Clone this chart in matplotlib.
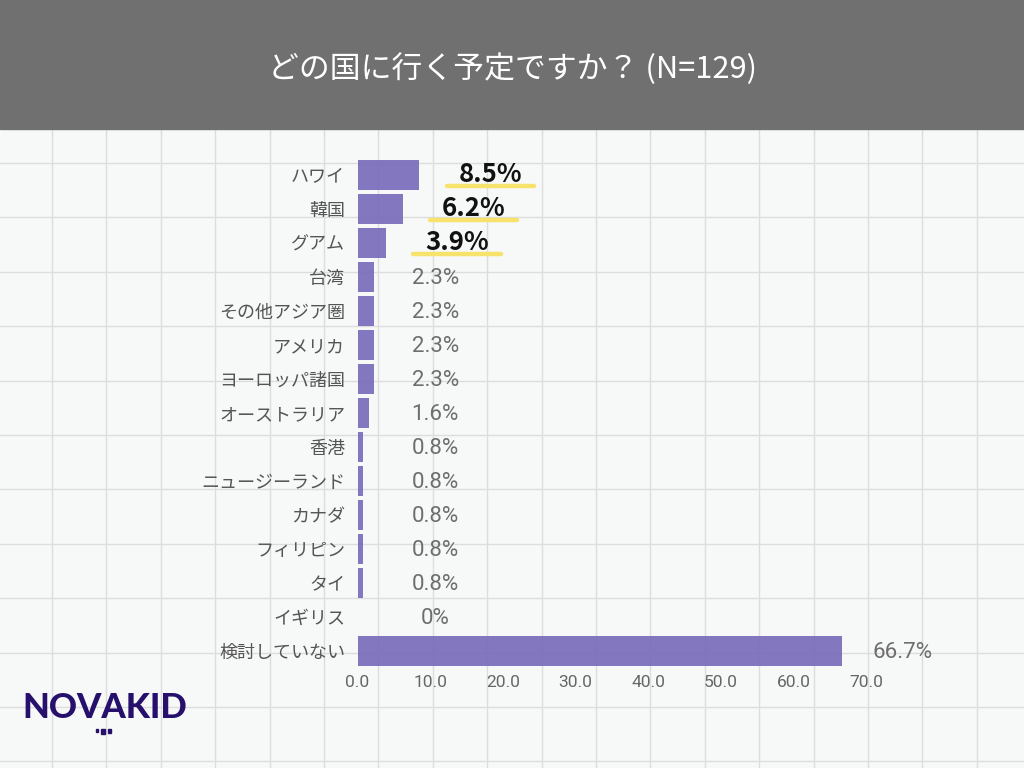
import matplotlib
matplotlib.use("Agg")
import matplotlib.pyplot as plt

plt.rcParams['font.family'] = ['Noto Sans CJK JP', 'DejaVu Sans']

# ---- data ----
categories = ["ハワイ", "韓国", "グアム", "台湾", "その他アジア圏", "アメリカ",
              "ヨーロッパ諸国", "オーストラリア", "香港", "ニュージーランド",
              "カナダ", "フィリピン", "タイ", "イギリス", "検討していない"]
values = [8.5, 6.2, 3.9, 2.3, 2.3, 2.3, 2.3, 1.6, 0.8, 0.8, 0.8, 0.8, 0.8, 0.0, 66.7]
value_labels = ["8.5%", "6.2%", "3.9%", "2.3%", "2.3%", "2.3%", "2.3%", "1.6%",
                "0.8%", "0.8%", "0.8%", "0.8%", "0.8%", "0%", "66.7%"]
highlight = [True, True, True] + [False] * 12
x_ticks = [0, 10, 20, 30, 40, 50, 60, 70]
x_tick_labels = ["0.0", "10.0", "20.0", "30.0", "40.0", "50.0", "60.0", "70.0"]
title = "どの国に行く予定ですか？ (N=129)"

W, H = 1024, 768
fig = plt.figure(figsize=(W / 100, H / 100), dpi=100)
fig.patch.set_facecolor("#f7f8f8")

num_font = ["Roboto", "Noto Sans CJK JP", "DejaVu Sans"]

# ---- decorative background grid + header ----
bg = fig.add_axes([0, 0, 1, 1])
bg.set_xlim(0, W)
bg.set_ylim(H, 0)
bg.axis("off")
gx = 52.0
while gx < W:
    bg.plot([gx, gx], [0, H], color="#dddddd", lw=1.0, zorder=0)
    gx += 54.4
gy = 163.0
while gy < H:
    bg.plot([0, W], [gy, gy], color="#dddddd", lw=1.0, zorder=0)
    gy += 54.4
bg.add_patch(plt.Rectangle((0, 0), W, 129, color="#707070", zorder=2))
bg.text(W / 2, 69, title, color="white", fontsize=22.2, ha="center", va="center", zorder=3)

# logo
bg.text(22, 708, "NOVAKID", color="#26106b", fontsize=25, fontweight="black",
        family=["Lato", "DejaVu Sans"], ha="left", va="center")
for dx, dy, s in [(-6, 0, 2.5), (0, 1, 3.5), (6, 0, 3)]:
    bg.add_patch(plt.Rectangle((103 + dx - s / 2, 730 + dy - s / 2), s, s * 1.4,
                               color="#26106b"))

# ---- main chart ----
left_px, right_px = 357.5, 866.0
top_px, bottom_px = 158.0, 668.0
ax = fig.add_axes([left_px / W, 1 - bottom_px / H, (right_px - left_px) / W,
                   (bottom_px - top_px) / H])
ax.patch.set_alpha(0)
ax.set_xlim(0, 70)
ax.set_ylim(len(categories) - 0.5, -0.5)
for s in ax.spines.values():
    s.set_visible(False)

bar_color = "#7a6ebc"
ypos = list(range(len(categories)))
ax.barh(ypos, values, height=0.88, color=bar_color, alpha=0.93, zorder=2)

ax.set_yticks(ypos)
ax.set_yticklabels(categories, fontsize=13, color="#555555")
ax.set_xticks(x_ticks)
ax.set_xticklabels(x_tick_labels, fontsize=12.5, color="#666666", family=num_font)
ax.tick_params(axis="y", length=0, pad=9)
ax.tick_params(axis="x", length=0, pad=5)

for i, (v, lab, hl) in enumerate(zip(values, value_labels, highlight)):
    if hl:
        cx = v + 9.8
        ax.plot([cx - 6.0, cx + 6.0], [i + 0.32, i + 0.32], color="#f7e36c",
                lw=3.2, solid_capstyle="round", zorder=3, clip_on=False)
        ax.text(cx, i, lab, ha="center", va="center", fontsize=18.5,
                fontweight="bold", color="#111111", zorder=4, clip_on=False)
    else:
        cx = max(v + 8.4, 10.7)
        ax.text(cx, i + 0.05, lab, ha="center", va="center", fontsize=16,
                color="#6e6e6e", family=num_font, zorder=4, clip_on=False)

fig.savefig("out.png", dpi=100, facecolor=fig.get_facecolor())
